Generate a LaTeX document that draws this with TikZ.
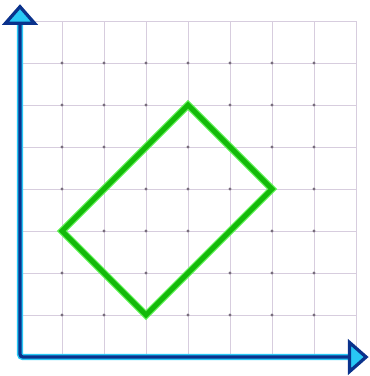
\documentclass[tikz,border=0pt]{standalone}
\usepackage{tikz}
\usetikzlibrary{arrows.meta}
\definecolor{gridline}{RGB}{215,205,222}
\definecolor{griddot}{RGB}{120,110,125}
\definecolor{axisblue}{RGB}{10,50,140}
\definecolor{axisglow}{RGB}{40,200,245}
\definecolor{shapegreen}{RGB}{20,185,10}
\definecolor{shapeglow}{RGB}{90,240,80}
\tikzset{
    gridlines/.style={
        draw=gridline,
        line width=0.6pt
    },
    gridpt/.style={
        fill=griddot
    },
    axisglowline/.style={
        draw=axisglow,
        line width=4.2pt,
        rounded corners=2pt
    },
    axis/.style={
        draw=axisblue,
        line width=2.2pt,
        rounded corners=2pt,
        {Triangle[width=24pt,length=14pt,fill=axisglow]}-{Triangle[width=24pt,length=14pt,fill=axisglow]}
    },
    rectglow/.style={
        draw=shapeglow,
        line width=4.8pt,
        line join=miter
    },
    rectline/.style={
        draw=shapegreen,
        line width=3.2pt,
        line join=miter
    }
}

\begin{document}
\begin{tikzpicture}

\useasboundingbox (-0.476,-0.452) rectangle (8.333,8.5);

% grid
\draw[gridlines] (0,0) grid (8,8);
\foreach \x in {1,...,7}
    \foreach \y in {1,...,7}
        \fill[gridpt] (\x,\y) circle (1.1pt);

% axes
\coordinate (O) at (0,0);
\coordinate (ytop) at (0,8.4);
\coordinate (xend) at (8.3,0);
\draw[axisglowline] (0,8) |- (8,0);
\draw[axis] (ytop) |- (xend);

% the rectangle
\coordinate (top) at (4,6);
\coordinate (right) at (6,4);
\coordinate (bottom) at (3,1);
\coordinate (left) at (1,3);
\draw[rectglow] (top) -- (right) -- (bottom) -- (left) -- cycle;
\draw[rectline] (top) -- (right) -- (bottom) -- (left) -- cycle;

\end{tikzpicture}
\end{document}
